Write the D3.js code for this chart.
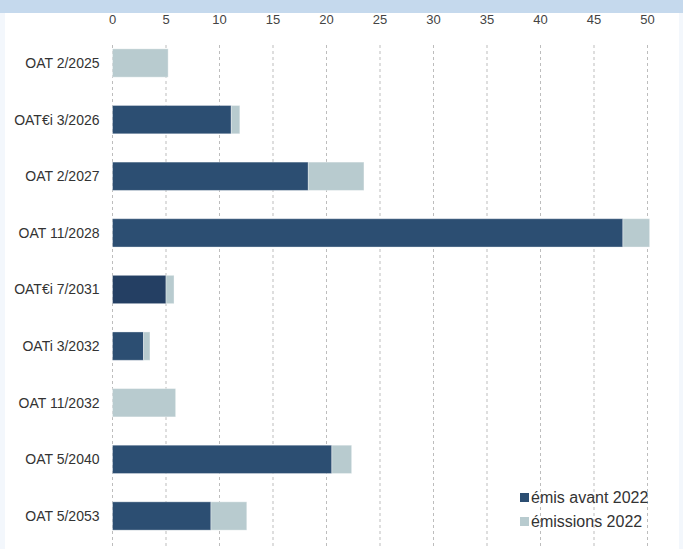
<!DOCTYPE html>
<html>
<head>
<meta charset="utf-8">
<script src="https://cdn.jsdelivr.net/npm/d3@7"></script>
<style>
  html, body { margin: 0; padding: 0; background: #f3f7fc; }
  svg { display: block; font-family: "Liberation Sans", Arial, sans-serif; }
</style>
</head>
<body>
<svg id="chart"></svg>
<script>
// ------------------- Data -------------------
const bonds = ["OAT 2/2025", "OAT€i 3/2026", "OAT 2/2027", "OAT 11/2028", "OAT€i 7/2031",
               "OATi 3/2032", "OAT 11/2032", "OAT 5/2040", "OAT 5/2053"];
const emisAvant = [0, 11.1, 18.3, 47.7, 5.0, 2.9, 0, 20.5, 9.2];
const emissions2022 = [5.2, 0.8, 5.2, 2.5, 0.75, 0.6, 5.9, 1.85, 3.35];
const seriesNames = ["émis avant 2022", "émissions 2022"];
const xTicks = [0, 5, 10, 15, 20, 25, 30, 35, 40, 45, 50];

// ------------------- Setup -------------------
const width = 683, height = 549;
const svg = d3.select("#chart").attr("width", width).attr("height", height);

// page frame: blue band on top, white panel
svg.append("rect").attr("x", 0).attr("y", 0).attr("width", width).attr("height", height).attr("fill", "#f3f7fc");
svg.append("rect").attr("x", 5).attr("y", 0).attr("width", 674).attr("height", height).attr("fill", "#fff");
svg.append("rect").attr("x", 0).attr("y", 0).attr("width", width).attr("height", 13).attr("fill", "#c5d9ed");

const colors = d3.scaleOrdinal().domain(seriesNames).range(["#2c4e72", "#b8cbcf"]);

const x = d3.scaleLinear().domain([0, 50]).range([112.5, 647.5]);
const y = d3.scaleBand().domain(bonds).range([34.7, 544.3]).paddingInner(0.5).paddingOuter(0.25);

// ------------------- Grid + axis labels -------------------
svg.append("g").selectAll("line")
  .data(xTicks)
  .join("line")
    .attr("x1", d => x(d)).attr("x2", d => x(d))
    .attr("y1", 45).attr("y2", height)
    .attr("stroke", "#bdbdbd")
    .attr("stroke-dasharray", "3,3");

svg.append("g").selectAll("text")
  .data(xTicks)
  .join("text")
    .attr("x", d => x(d))
    .attr("y", 24)
    .attr("text-anchor", "middle")
    .attr("font-size", "13px")
    .attr("fill", "#444")
    .text(d => d);

// category labels
svg.append("g").selectAll("text")
  .data(bonds)
  .join("text")
    .attr("x", 99.5)
    .attr("y", d => y(d) + y.bandwidth() / 2)
    .attr("dy", "0.35em")
    .attr("text-anchor", "end")
    .attr("font-size", "14px")
    .attr("fill", "#333")
    .text(d => d);

// ------------------- Stacked bars -------------------
const rows = bonds.map((b, i) => ({ bond: b, [seriesNames[0]]: emisAvant[i], [seriesNames[1]]: emissions2022[i] }));
const stacked = d3.stack().keys(seriesNames)(rows);

svg.append("g").selectAll("g")
  .data(stacked)
  .join("g")
    .attr("fill", d => colors(d.key))
  .selectAll("rect")
  .data(d => d.filter(s => s[1] - s[0] > 0))
  .join("rect")
    .attr("x", d => x(d[0]))
    .attr("y", d => y(d.data.bond))
    .attr("width", d => x(d[1]) - x(d[0]))
    .attr("height", y.bandwidth())
    .attr("fill", function(d) {
      // the 7/2031 inflation-linked line is drawn a shade darker
      const key = d3.select(this.parentNode).datum().key;
      return (key === seriesNames[0] && d.data.bond === "OAT€i 7/2031") ? "#243f63" : null;
    })
    .attr("stroke", "rgba(255,255,255,0.35)")
    .attr("stroke-width", 1);

// ------------------- Legend -------------------
const legend = svg.append("g").attr("transform", "translate(520, 493)");
legend.selectAll("rect")
  .data(seriesNames)
  .join("rect")
    .attr("x", 0)
    .attr("y", (d, i) => i * 24)
    .attr("width", 9)
    .attr("height", 9)
    .attr("fill", d => colors(d));
legend.selectAll("text")
  .data(seriesNames)
  .join("text")
    .attr("x", 11)
    .attr("y", (d, i) => i * 24 + 10)
    .attr("font-size", "16px")
    .attr("fill", "#333")
    .text(d => d);
</script>
</body>
</html>
